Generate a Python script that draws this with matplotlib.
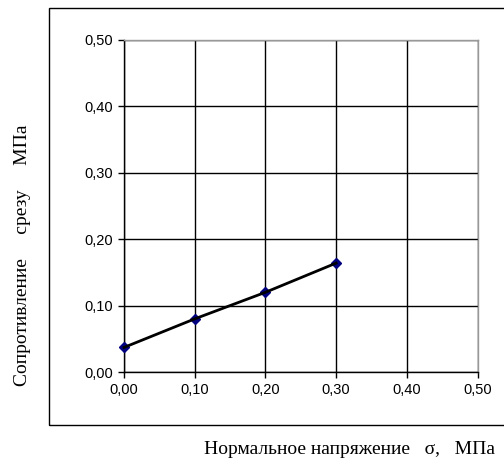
import matplotlib.pyplot as plt
from matplotlib.patches import Rectangle
from matplotlib.ticker import MultipleLocator, FuncFormatter

# Сопротивление срезу от нормального напряжения
sigma = [0.00, 0.10, 0.20, 0.30]
tau = [0.037, 0.080, 0.120, 0.164]

W, H = 504, 459
fig = plt.figure(figsize=(W / 100, H / 100), dpi=100)

# рамка области диаграммы (уходит за правый край)
fig.patches.append(Rectangle((49 / W, 1 - 425 / H), 470 / W, 417 / H,
                             transform=fig.transFigure, fill=False,
                             edgecolor='black', lw=1.0))

ax = fig.add_axes([124 / W, 1 - 372 / H, (477.5 - 124) / W, (372 - 40) / H])
ax.set_xlim(0, 0.5)
ax.set_ylim(0, 0.5)
ax.xaxis.set_major_locator(MultipleLocator(0.1))
ax.yaxis.set_major_locator(MultipleLocator(0.1))
fmt = FuncFormatter(lambda v, p: f"{v:.2f}".replace('.', ','))
ax.xaxis.set_major_formatter(fmt)
ax.yaxis.set_major_formatter(fmt)
ax.grid(True, color='black', lw=1.0)
ax.set_axisbelow(True)

for s in ['left', 'bottom']:
    ax.spines[s].set_color('black')
    ax.spines[s].set_linewidth(1.0)
for s in ['top', 'right']:
    ax.spines[s].set_color('#999999')
    ax.spines[s].set_linewidth(1.0)

ax.tick_params(direction='out', length=4, width=1, color='black',
               labelsize=10.5, pad=4)
for lab in ax.get_xticklabels() + ax.get_yticklabels():
    lab.set_family('Liberation Sans')

ax.plot(sigma, tau, linestyle='none', marker='D', markersize=5,
        color='#000080', zorder=3, clip_on=False)
ax.plot(sigma, tau, color='black', lw=2, zorder=4, clip_on=False)

fig.text(350 / W, 1 - 450 / H, 'Нормальное напряжение   σ,   МПа',
         family='Liberation Serif', fontsize=14, ha='center', va='center')
fig.text(23 / W, 1 - 255 / H, 'Сопротивление     срезу     МПа',
         family='Liberation Serif', fontsize=14, rotation=90,
         ha='center', va='center')

fig.savefig('out.png', dpi=100)
